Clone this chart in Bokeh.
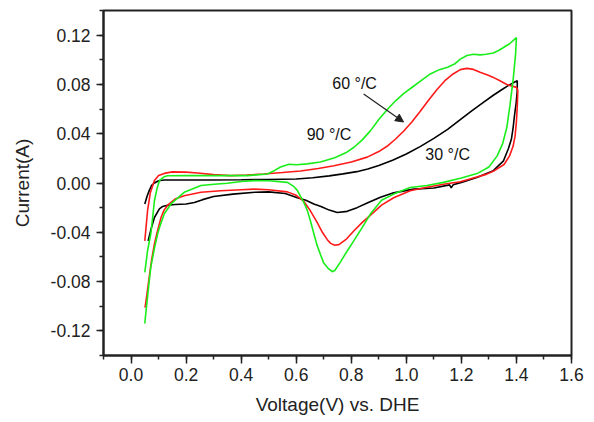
from bokeh.plotting import figure
from bokeh.models import (Range1d, SingleIntervalTicker, NumeralTickFormatter,
                          Arrow, NormalHead, ColumnDataSource)
from bokeh.core.properties import value
from bokeh.embed import file_html
from bokeh.resources import INLINE

# ---------------- data ----------------
# 30 °C (black): anodic sweep then cathodic sweep
black_x = [0.05, 0.058, 0.066, 0.075, 0.085, 0.1, 0.121, 0.2, 0.3, 0.4, 0.5, 0.6, 0.66, 0.72,
           0.77, 0.82, 0.86, 0.9, 0.95, 1.0, 1.05, 1.1, 1.15, 1.196, 1.24, 1.28, 1.316, 1.345,
           1.37, 1.39, 1.403,
           1.403, 1.399, 1.393, 1.388, 1.382, 1.371, 1.353, 1.316, 1.256, 1.2, 1.17, 1.163,
           1.157, 1.1, 1.027, 0.954, 0.906, 0.86, 0.821, 0.785, 0.749, 0.72, 0.69, 0.664,
           0.635, 0.604, 0.56, 0.5, 0.45, 0.37, 0.3, 0.26, 0.23, 0.2, 0.16, 0.133, 0.115,
           0.103, 0.085, 0.072, 0.062]
black_y = [-0.017, -0.011, -0.0062, -0.002, 0.0, 0.0018, 0.0024, 0.0024, 0.0024, 0.0026, 0.0029,
           0.0033, 0.0042, 0.0058, 0.0074, 0.0092, 0.0113, 0.0142, 0.0185, 0.0235, 0.0295,
           0.0362, 0.0435, 0.0515, 0.059, 0.0655, 0.0712, 0.0755, 0.079, 0.0815, 0.083,
           0.075, 0.065, 0.055, 0.045, 0.036, 0.028, 0.018, 0.010, 0.0045, 0.0005, -0.0015,
           -0.004, -0.0015, -0.004, -0.005, -0.008, -0.0115, -0.016, -0.020, -0.023, -0.024,
           -0.022, -0.019, -0.017, -0.014, -0.012, -0.0085, -0.0072, -0.0075, -0.009, -0.011,
           -0.0135, -0.0158, -0.017, -0.0175, -0.018, -0.019, -0.021, -0.028, -0.038, -0.047]

# 60 °C (red)
red_x = [0.05, 0.055, 0.06, 0.07, 0.085, 0.1, 0.121, 0.15, 0.2, 0.242, 0.3, 0.362, 0.42, 0.483,
         0.55, 0.616, 0.68, 0.737, 0.8, 0.858, 0.9, 0.93, 0.96, 0.99, 1.02, 1.05, 1.08, 1.11,
         1.14, 1.17, 1.196, 1.22, 1.244, 1.268, 1.3, 1.316, 1.34, 1.365, 1.40,
         1.405, 1.403, 1.40, 1.395, 1.388, 1.375, 1.355, 1.32, 1.29, 1.25, 1.196, 1.135, 1.075,
         1.014, 0.954, 0.91, 0.87, 0.84, 0.809, 0.78, 0.755, 0.74, 0.725, 0.713, 0.695, 0.676,
         0.65, 0.628, 0.60, 0.568, 0.5, 0.447, 0.4, 0.326, 0.254, 0.193, 0.16, 0.133, 0.12,
         0.109, 0.095, 0.085, 0.075, 0.066, 0.058, 0.052, 0.05]
red_y = [-0.047, -0.035, -0.0225, -0.008, 0.002, 0.006, 0.0078, 0.009, 0.0088, 0.0081, 0.0068,
         0.006, 0.0065, 0.0073, 0.0085, 0.0098, 0.0118, 0.014, 0.017, 0.021, 0.0255, 0.0298,
         0.0355, 0.042, 0.0495, 0.058, 0.067, 0.0755, 0.083, 0.0885, 0.092, 0.093, 0.0922,
         0.0898, 0.0873, 0.0857, 0.083, 0.080, 0.0776,
         0.075, 0.062, 0.050, 0.038, 0.030, 0.022, 0.015, 0.010, 0.007, 0.0045, 0.001, -0.001,
         -0.0035, -0.0063, -0.012, -0.018, -0.026, -0.032, -0.039, -0.046, -0.050, -0.0505,
         -0.049, -0.046, -0.040, -0.032, -0.022, -0.015, -0.010, -0.0072, -0.0055, -0.005,
         -0.0055, -0.0063, -0.0075, -0.0103, -0.013, -0.018, -0.022, -0.028, -0.040, -0.0495,
         -0.062, -0.0766, -0.090, -0.0996, -0.101]

# 90 °C (green)
green_x = [0.05, 0.06, 0.072, 0.08, 0.085, 0.095, 0.103, 0.12, 0.133, 0.2, 0.3, 0.423, 0.495,
           0.52, 0.543, 0.574, 0.6, 0.64, 0.688, 0.74, 0.78, 0.81, 0.84, 0.87, 0.9, 0.93,
           0.96, 0.99, 1.02, 1.05, 1.087, 1.12, 1.15, 1.175, 1.196, 1.22, 1.244, 1.268, 1.29,
           1.316, 1.335, 1.353, 1.375, 1.40,
           1.397, 1.389, 1.377, 1.365, 1.35, 1.33, 1.30, 1.26, 1.20, 1.135, 1.075, 1.014, 0.954,
           0.91, 0.87, 0.84, 0.809, 0.78, 0.761, 0.74, 0.731, 0.715, 0.70, 0.688, 0.675, 0.664,
           0.652, 0.64, 0.628, 0.616, 0.604, 0.592, 0.568, 0.5, 0.447, 0.4, 0.35, 0.302, 0.254,
           0.193, 0.145, 0.121, 0.105, 0.097, 0.085, 0.072, 0.062, 0.054, 0.05]
green_y = [-0.0725, -0.055, -0.041, -0.025, -0.0144, -0.004, 0.0019, 0.005, 0.0059, 0.006, 0.006,
           0.006, 0.0073, 0.010, 0.013, 0.0152, 0.0148, 0.0155, 0.017, 0.0205, 0.0245, 0.029,
           0.035, 0.0425, 0.0515, 0.0595, 0.0665, 0.0725, 0.0775, 0.0825, 0.0885, 0.092, 0.094,
           0.0965, 0.1005, 0.1035, 0.1045, 0.104, 0.1045, 0.1055, 0.1075, 0.110, 0.113, 0.118,
           0.105, 0.086, 0.064, 0.045, 0.032, 0.022, 0.013, 0.008, 0.004, 0.0005, -0.002,
           -0.0036, -0.009, -0.014, -0.025, -0.036, -0.047, -0.057, -0.064, -0.071, -0.072,
           -0.069, -0.065, -0.058, -0.050, -0.041, -0.031, -0.022, -0.016, -0.011, -0.006,
           -0.003, 0.0005, 0.0018, 0.0019, 0.0012, -0.0002, -0.001, -0.002, -0.0076, -0.017,
           -0.025, -0.035, -0.041, -0.053, -0.068, -0.088, -0.105, -0.114]

labels = ["60 °/C", "90 °/C", "30 °/C"]
label_x = [0.731, 0.638, 1.069]
label_y = [0.0806, 0.0397, 0.0235]

arrow_start = (0.845, 0.0722)
arrow_end = (0.990, 0.0495)

# ---------------- figure ----------------
FONT = "Liberation Sans"
p = figure(width=594, height=422, output_backend="svg", toolbar_location=None,
           x_range=Range1d(-0.1, 1.6), y_range=Range1d(-0.14, 0.14),
           min_border_left=103, min_border_right=23, min_border_top=10, min_border_bottom=67)
p.background_fill_color = "white"
p.border_fill_color = "white"
p.grid.visible = False
p.outline_line_color = "#222222"
p.outline_line_width = 2
p.outline_line_alpha = 1

p.line(black_x, black_y, line_color="#000000", line_width=1.6)
p.line(red_x, red_y, line_color="#ff1a1a", line_width=1.6)
p.line(green_x, green_y, line_color="#1aee1a", line_width=1.6)

src = ColumnDataSource(dict(x=label_x, y=label_y, t=labels))
p.text(x="x", y="y", text="t", source=src, text_font=value(FONT), text_font_size="16px",
       text_align="left", text_baseline="middle", text_color="#111111")

p.add_layout(Arrow(end=NormalHead(size=8, fill_color="#222222", line_color="#222222"),
                   x_start=arrow_start[0], y_start=arrow_start[1],
                   x_end=arrow_end[0], y_end=arrow_end[1],
                   line_color="#222222", line_width=1.2))

p.xaxis.ticker = SingleIntervalTicker(interval=0.2, num_minor_ticks=2)
p.yaxis.ticker = SingleIntervalTicker(interval=0.04, num_minor_ticks=2)
p.xaxis.formatter = NumeralTickFormatter(format="0.0")
p.yaxis.formatter = NumeralTickFormatter(format="0.00")

for ax in (p.xaxis[0], p.yaxis[0]):
    ax.axis_line_color = "#222222"
    ax.axis_line_width = 2
    ax.major_tick_line_color = "#222222"
    ax.minor_tick_line_color = "#222222"
    ax.major_tick_line_width = 1.5
    ax.minor_tick_line_width = 1.5
    ax.major_tick_in = 0
    ax.minor_tick_in = 0
    ax.major_label_text_font = FONT
    ax.major_label_text_font_size = "17.5px"
    ax.major_label_text_color = "#222222"
    ax.axis_label_text_font = FONT
    ax.axis_label_text_font_size = "19px"
    ax.axis_label_text_font_style = "normal"
    ax.axis_label_text_color = "#222222"

p.xaxis.major_tick_out = 8
p.xaxis.minor_tick_out = 4
p.yaxis.major_tick_out = 7
p.yaxis.minor_tick_out = 4
p.xaxis.major_label_standoff = 4
p.yaxis.major_label_standoff = 6
p.xaxis.axis_label = "Voltage(V) vs. DHE"
p.yaxis.axis_label = "Current(A)"
p.xaxis.axis_label_standoff = 10
p.yaxis.axis_label_standoff = 15

open("out.html", "w").write(file_html(p, INLINE))
